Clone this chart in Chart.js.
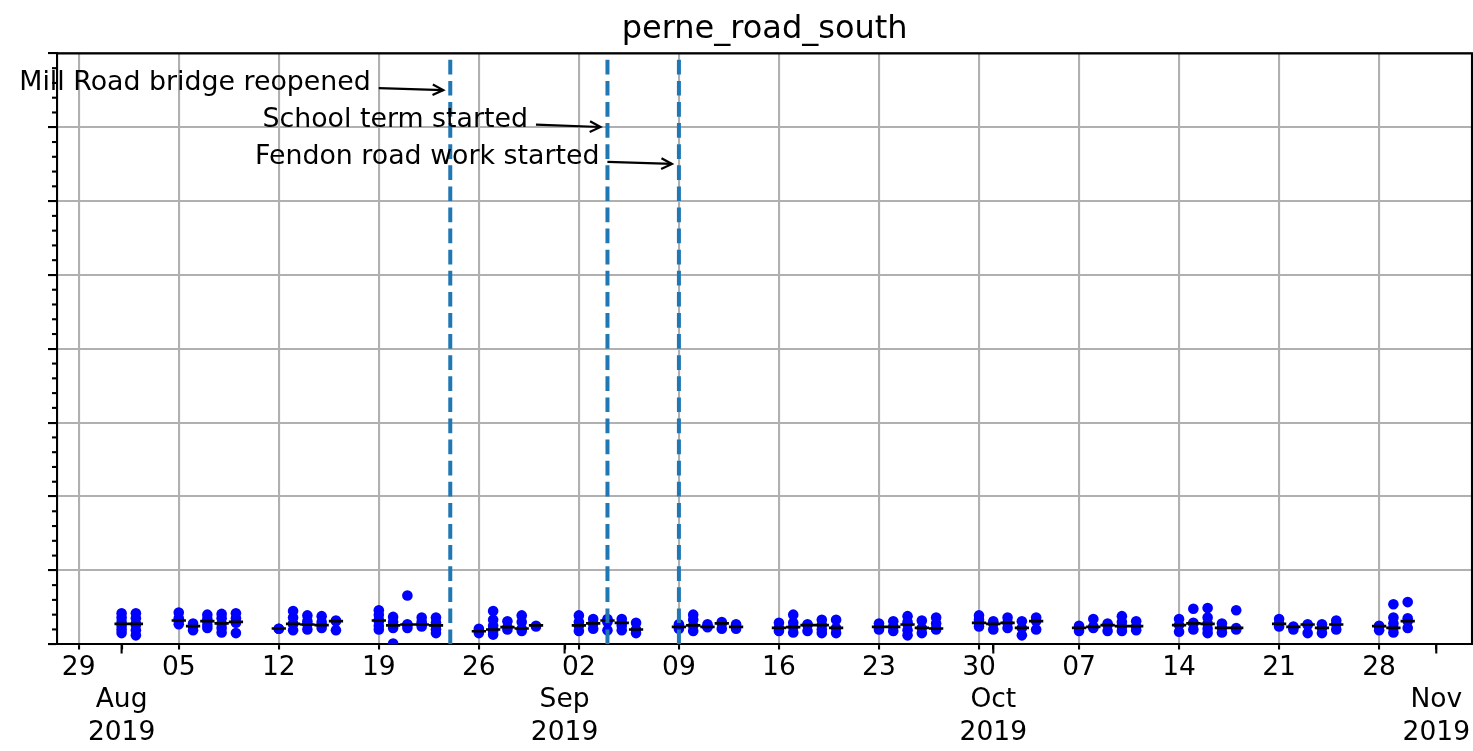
<!DOCTYPE html>
<html>
<head>
<meta charset="utf-8">
<script src="https://cdn.jsdelivr.net/npm/chart.js@4.4.1/dist/chart.umd.min.js"></script>
<style>
html,body{margin:0;padding:0;background:#fff;}
#c{display:block;}
</style>
</head>
<body>
<canvas id="c" width="1473" height="751"></canvas>
<script>
// ---------------- data ----------------
const chartTitle = 'perne_road_south';

const dayDates = [
  '2019-08-01','2019-08-02',
  '2019-08-05','2019-08-06','2019-08-07','2019-08-08','2019-08-09',
  '2019-08-12','2019-08-13','2019-08-14','2019-08-15','2019-08-16',
  '2019-08-19','2019-08-20','2019-08-21','2019-08-22','2019-08-23',
  '2019-08-26','2019-08-27','2019-08-28','2019-08-29','2019-08-30',
  '2019-09-02','2019-09-03','2019-09-04','2019-09-05','2019-09-06',
  '2019-09-09','2019-09-10','2019-09-11','2019-09-12','2019-09-13',
  '2019-09-16','2019-09-17','2019-09-18','2019-09-19','2019-09-20',
  '2019-09-23','2019-09-24','2019-09-25','2019-09-26','2019-09-27',
  '2019-09-30','2019-10-01','2019-10-02','2019-10-03','2019-10-04',
  '2019-10-07','2019-10-08','2019-10-09','2019-10-10','2019-10-11',
  '2019-10-14','2019-10-15','2019-10-16','2019-10-17','2019-10-18',
  '2019-10-21','2019-10-22','2019-10-23','2019-10-24','2019-10-25',
  '2019-10-28','2019-10-29','2019-10-30'
];

const dayValues = [
  [0.42,0.36,0.30,0.25,0.20,0.15], [0.42,0.35,0.28,0.26,0.19,0.12],
  [0.43,0.35,0.32,0.27], [0.28,0.24,0.19], [0.40,0.34,0.31,0.26,0.22], [0.41,0.35,0.28,0.22,0.16], [0.42,0.35,0.30,0.29,0.15],
  [0.21,0.21], [0.45,0.36,0.28,0.27,0.19], [0.39,0.31,0.27,0.20], [0.38,0.30,0.26,0.22], [0.32,0.31,0.19],
  [0.46,0.40,0.33,0.31,0.25,0.20], [0.37,0.30,0.25,0.22,0.01], [0.66,0.27,0.26,0.22], [0.36,0.30,0.27,0.24], [0.36,0.29,0.25,0.20,0.15],
  [0.21,0.18,0.15], [0.45,0.33,0.25,0.20,0.18,0.13], [0.31,0.23,0.20], [0.39,0.30,0.21,0.18], [0.25,0.24],
  [0.39,0.30,0.25,0.18], [0.34,0.28,0.21], [0.34,0.32,0.30,0.19], [0.34,0.29,0.25,0.19], [0.29,0.20,0.15],
  [0.27,0.23,0.21], [0.40,0.33,0.25,0.18], [0.27,0.24,0.23], [0.30,0.28,0.21], [0.27,0.23,0.21],
  [0.29,0.22,0.18], [0.40,0.29,0.23,0.16], [0.27,0.26,0.18], [0.33,0.26,0.20,0.15], [0.33,0.22,0.15],
  [0.28,0.23,0.20], [0.31,0.24,0.18], [0.38,0.30,0.27,0.19,0.12], [0.32,0.22,0.15], [0.36,0.28,0.21,0.20],
  [0.39,0.33,0.29,0.24], [0.31,0.28,0.20], [0.36,0.29,0.22], [0.31,0.22,0.12], [0.36,0.31,0.20],
  [0.25,0.22,0.18], [0.34,0.24,0.22], [0.28,0.26,0.18], [0.38,0.30,0.24,0.18], [0.31,0.24,0.19],
  [0.34,0.26,0.17], [0.48,0.29,0.28,0.20], [0.49,0.36,0.28,0.21,0.15], [0.28,0.22,0.16], [0.46,0.22,0.20],
  [0.34,0.28,0.24], [0.24,0.23,0.20], [0.27,0.26,0.15], [0.27,0.22,0.15], [0.32,0.27,0.20],
  [0.25,0.24,0.19], [0.54,0.36,0.28,0.22,0.16], [0.57,0.35,0.31,0.22]
];

const dayMedians = [
  0.275,0.275,
  0.321,0.244,0.312,0.281,0.302,
  0.213,0.275,0.267,0.258,0.312,
  0.321,0.254,0.267,0.267,0.254,
  0.176,0.199,0.231,0.213,0.254,
  0.254,0.281,0.321,0.289,0.199,
  0.235,0.254,0.235,0.281,0.235,
  0.221,0.231,0.258,0.258,0.221,
  0.235,0.235,0.267,0.221,0.213,
  0.289,0.275,0.289,0.221,0.312,
  0.221,0.235,0.258,0.244,0.244,
  0.258,0.281,0.275,0.221,0.221,
  0.275,0.235,0.267,0.221,0.267,
  0.244,0.221,0.312
];

const weekTickDates = ['2019-07-29','2019-08-05','2019-08-12','2019-08-19','2019-08-26','2019-09-02','2019-09-09',
  '2019-09-16','2019-09-23','2019-09-30','2019-10-07','2019-10-14','2019-10-21','2019-10-28'];
const weekTickLabels = ['29','05','12','19','26','02','09','16','23','30','07','14','21','28'];
const monthTickDates = ['2019-08-01','2019-09-01','2019-10-01','2019-11-01'];
const monthTickLabels = [['Aug','2019'],['Sep','2019'],['Oct','2019'],['Nov','2019']];

const eventDates = ['2019-08-24','2019-09-04','2019-09-09'];
const eventLabels = ['Mill Road bridge reopened','School term started','Fendon road work started'];
const eventArrowY = [7.5, 7.0, 6.5];

const xLimits = ['2019-07-27T12:00','2019-11-03T12:00'];
const yLimits = [0, 8];

// ---------------- helpers ----------------
const DAY0 = Date.parse('2019-07-29T00:00:00Z');
function toDay(s){
  const iso = s.length > 10 ? s + ':00Z' : s + 'T00:00:00Z';
  return (Date.parse(iso) - DAY0) / 86400000;
}

const scatterPts = [];
dayDates.forEach((d,i)=>dayValues[i].forEach(v=>scatterPts.push({x:toDay(d), y:v})));

const medianPts = [];
dayDates.forEach((d,i)=>{
  const x = toDay(d);
  medianPts.push({x:x-0.5, y:dayMedians[i]}, {x:x+0.5, y:dayMedians[i]}, {x:x+0.5, y:null});
});

const eventPts = [];
eventDates.forEach(d=>{
  const x = toDay(d);
  eventPts.push({x:x, y:yLimits[0]}, {x:x, y:yLimits[1]}, {x:x, y:null});
});

const weekVals = weekTickDates.map(toDay);
const monthVals = monthTickDates.map(toDay);
const labelFor = new Map();
weekVals.forEach((v,i)=>labelFor.set(v, weekTickLabels[i]));
monthVals.forEach((v,i)=>labelFor.set(v, ['', ...monthTickLabels[i]]));
const isMonth = v => monthVals.includes(v);

const FONT = 'DejaVu Sans';
const TICK_FS = 26.5;
const TICK_LH = 32.5;
const ANN_FS = 26.8;

// ---------------- plugins ----------------
const centerTitle = {
  id: 'centerTitle',
  afterLayout(chart){
    const t = chart.titleBlock;
    if (t){ t.left = chart.chartArea.left; t.right = chart.chartArea.right; }
  }
};

const extraTicks = {
  id: 'extraTicks',
  afterDraw(chart){
    const {ctx, chartArea:a, scales:{x, y}} = chart;
    ctx.save();
    ctx.strokeStyle = '#000';
    ctx.lineWidth = 2.1;
    for (let k = 1; k < 40; k++){
      if (k % 5 === 0) continue;
      const py = y.getPixelForValue(k * 0.2);
      ctx.beginPath(); ctx.moveTo(a.left - 5.3, py); ctx.lineTo(a.left, py); ctx.stroke();
    }
    monthVals.forEach(v=>{
      const px = x.getPixelForValue(v);
      ctx.beginPath(); ctx.moveTo(px, a.bottom); ctx.lineTo(px, a.bottom + 9.3); ctx.stroke();
    });
    ctx.beginPath();
    ctx.moveTo(a.left, a.top); ctx.lineTo(a.right, a.top); ctx.lineTo(a.right, a.bottom);
    ctx.stroke();
    ctx.restore();
  }
};

const annotations = {
  id: 'annotations',
  afterDatasetsDraw(chart){
    const {ctx, scales:{x, y}} = chart;
    ctx.save();
    ctx.font = ANN_FS + 'px "' + FONT + '"';
    ctx.fillStyle = '#000';
    ctx.strokeStyle = '#000';
    ctx.lineWidth = 2.2;
    ctx.textAlign = 'right';
    ctx.textBaseline = 'alphabetic';
    eventDates.forEach((d,i)=>{
      const tx = x.getPixelForValue(toDay(d));
      const ty = y.getPixelForValue(eventArrowY[i]);
      const right = tx - 79.5;
      ctx.fillText(eventLabels[i], right, ty);
      const w = ctx.measureText(eventLabels[i]).width;
      const cx = right - w/2, cy = ty - 0.3 * ANN_FS;
      const dx = tx - cx, dy = ty - cy, len = Math.hypot(dx, dy);
      const ux = dx/len, uy = dy/len;
      const sx = right + 8, sy = cy + uy/ux * (sx - cx);
      const ex = tx - ux*7, ey = ty - uy*7;
      ctx.beginPath(); ctx.moveTo(sx, sy); ctx.lineTo(ex, ey); ctx.stroke();
      const hl = 10.6, hw = 5.3;
      const bx = ex - ux*hl, by = ey - uy*hl;
      ctx.beginPath();
      ctx.moveTo(bx - uy*hw, by + ux*hw); ctx.lineTo(ex, ey); ctx.lineTo(bx + uy*hw, by - ux*hw);
      ctx.stroke();
    });
    ctx.restore();
  }
};

// ---------------- chart ----------------
new Chart(document.getElementById('c'), {
  type: 'scatter',
  data: {
    datasets: [
      { type:'line', label:'events', data:eventPts, borderColor:'#1f77b4', borderWidth:4,
        borderDash:[14.7,6.4], pointRadius:0, showLine:true, spanGaps:false, order:0 },
      { type:'line', label:'daily median', data:medianPts, borderColor:'#000', borderWidth:2.65,
        pointRadius:0, showLine:true, spanGaps:false, order:1 },
      { type:'scatter', label:'journeys', data:scatterPts, backgroundColor:'#0000ff',
        borderWidth:0, pointRadius:5.3, order:2 }
    ]
  },
  options: {
    responsive:false, animation:false, devicePixelRatio:1,
    layout:{ autoPadding:false, padding:{ left:48, right:1, top:0, bottom:0 } },
    plugins:{
      legend:{display:false}, tooltip:{enabled:false},
      title:{ display:true, text:chartTitle, color:'#000',
        font:{family:FONT, size:32, weight:'normal', lineHeight:1.2}, padding:{top:10, bottom:5} }
    },
    scales:{
      x:{
        type:'linear', min:toDay(xLimits[0]), max:toDay(xLimits[1]),
        afterBuildTicks: s => { s.ticks = [...weekVals, ...monthVals].sort((a,b)=>a-b).map(v=>({value:v})); },
        afterFit: s => { s.paddingLeft = 0; s.paddingRight = 0; },
        ticks:{ autoSkip:false, maxRotation:0, minRotation:0, padding:2, color:'#000',
          font:{family:FONT, size:TICK_FS, lineHeight:TICK_LH/TICK_FS},
          callback: v => labelFor.has(v) ? labelFor.get(v) : '' },
        grid:{ color: c => (c.tick && isMonth(c.tick.value)) ? 'rgba(0,0,0,0)' : '#b0b0b0',
          lineWidth:2.1, tickLength:5.3, tickColor:'#000', tickWidth:2.1 },
        border:{ display:true, color:'#000', width:2.1 }
      },
      y:{
        min:yLimits[0], max:yLimits[1],
        ticks:{ display:false, stepSize:1 },
        grid:{ color:'#b0b0b0', lineWidth:2.1, tickLength:9.3, tickColor:'#000', tickWidth:2.1 },
        border:{ display:true, color:'#000', width:2.1 }
      }
    }
  },
  plugins:[centerTitle, extraTicks, annotations]
});
</script>
</body>
</html>
